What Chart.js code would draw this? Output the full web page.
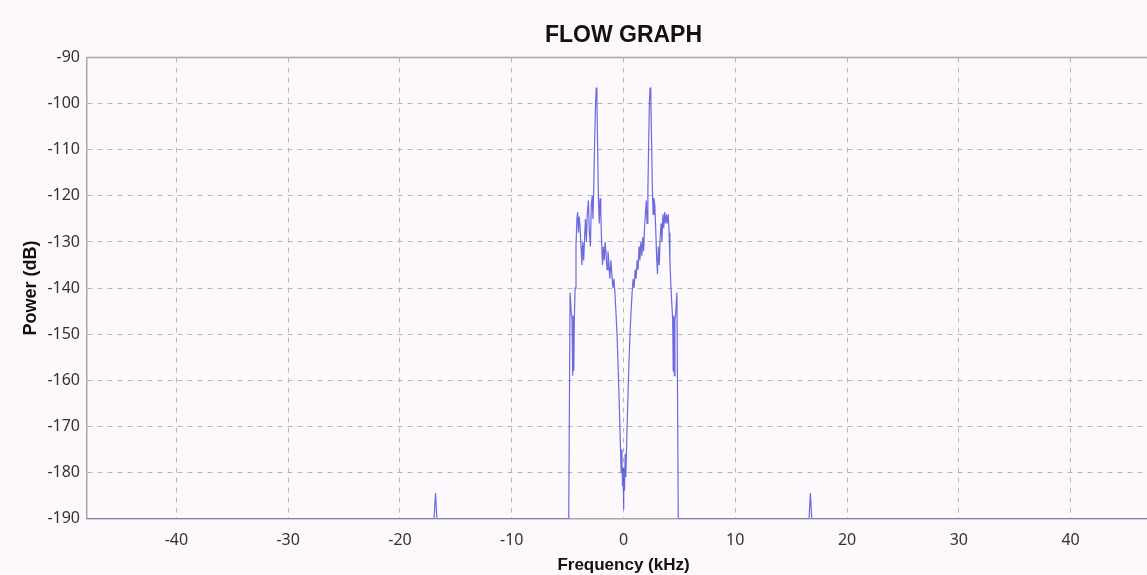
<!DOCTYPE html>
<html>
<head>
<meta charset="utf-8">
<title>Flow graph</title>
<script src="https://cdn.jsdelivr.net/npm/chart.js@4.4.1/dist/chart.umd.min.js"></script>
<style>
    html, body { margin: 0; padding: 0; background: #fcf8fc; overflow: hidden; }
    #wrap { width: 1160px; height: 577px; }
</style>
</head>
<body>
<div id="wrap"><canvas id="flowChart"></canvas></div>
<script>
// spectrum, kHz / dB
const freqKHz = [
    -48, -16.95, -16.82, -16.7, -4.9,
    -4.78, -4.68, -4.6, -4.55, -4.5, -4.45, -4.4, -4.33, -4.25, -4.17, -4.1, -4.03, -3.96, -3.88, -3.8,
    -3.72, -3.64, -3.56, -3.48, -3.4, -3.32, -3.24, -3.14, -3.05, -2.96, -2.88, -2.8, -2.73, -2.66,
    -2.58, -2.5, -2.44, -2.38, -2.31, -2.24, -2.17, -2.1, -2.03, -1.96, -1.88, -1.8, -1.72, -1.64,
    -1.55, -1.47, -1.39, -1.3, -1.22, -1.13, -1.04, -0.95, -0.86, -0.77, -0.68, -0.58, -0.48, -0.38,
    -0.29, -0.21, -0.15, -0.09, -0.04, 0,
    0.04, 0.09, 0.15, 0.21, 0.29, 0.38, 0.48, 0.58, 0.68, 0.77, 0.86, 0.95, 1.04, 1.13, 1.22, 1.3,
    1.39, 1.47, 1.55, 1.64, 1.72, 1.8, 1.88, 1.96, 2.04, 2.11, 2.18, 2.25, 2.32, 2.38, 2.44, 2.51,
    2.58, 2.65, 2.72, 2.8, 2.88, 2.96, 3.04, 3.12, 3.2, 3.28, 3.36, 3.44, 3.52, 3.6, 3.68, 3.76,
    3.84, 3.92, 4.0, 4.08, 4.15, 4.25, 4.33, 4.4, 4.45, 4.5, 4.55, 4.6, 4.68, 4.78, 4.9,
    16.6, 16.72, 16.84, 48
];
const powerDb = [
    -190, -190, -184.5, -190, -190,
    -141, -145, -147, -159, -146, -158, -147, -140, -131, -125, -123.5, -128, -124.5, -127, -131,
    -135, -130, -134, -129, -125, -130, -124, -121, -128, -131, -122, -120, -125, -118,
    -108, -100, -96.5, -99, -110, -121, -126, -120.5, -124, -130, -135, -131, -134, -130,
    -133, -136, -132, -135, -138, -134, -137, -140, -138, -141, -145, -150, -157, -165,
    -173, -180, -175, -183, -179, -188,
    -180, -184, -176, -181, -173, -165, -157, -150, -145, -141, -138, -140, -136, -138, -134, -136,
    -131, -134, -130, -133, -129, -132, -127, -124, -121, -126, -119, -109, -99.5, -96.5, -98, -108,
    -118, -124, -120.5, -122, -127, -133, -137, -131, -135, -129, -126, -130, -124, -127, -123.5, -126,
    -124, -126, -124, -128, -134, -140, -140, -147, -158, -146, -159, -147, -145, -141, -190,
    -190, -184.5, -190, -190
];
const powerTicks = [-190, -180, -170, -160, -150, -140, -130, -120, -110, -100, -90];

const points = freqKHz.map((f, i) => ({ x: f, y: powerDb[i] }));

// solid line along the top of the plot frame
const frameTop = {
    id: 'frameTop',
    beforeDatasetsDraw(chart) {
        const { ctx, chartArea } = chart;
        ctx.save();
        ctx.strokeStyle = '#a9a6aa';
        ctx.lineWidth = 1.5;
        ctx.beginPath();
        ctx.moveTo(chartArea.left, chartArea.top);
        ctx.lineTo(chartArea.right, chartArea.top);
        ctx.stroke();
        ctx.restore();
    }
};

new Chart(document.getElementById('flowChart'), {
    type: 'scatter',
    data: {
        datasets: [{
            data: points,
            showLine: true,
            borderColor: 'rgba(70, 70, 215, 0.8)',
            borderWidth: 1.2,
            pointRadius: 0,
            tension: 0
        }]
    },
    options: {
        responsive: true,
        maintainAspectRatio: false,
        animation: false,
        layout: { padding: 0 },
        plugins: {
            legend: { display: false },
            tooltip: { enabled: false },
            title: {
                display: true,
                text: 'FLOW GRAPH',
                fullSize: false,
                color: '#111',
                font: { family: 'Liberation Sans', size: 23, weight: 'bold' },
                padding: { top: 22, bottom: 8 }
            }
        },
        scales: {
            x: {
                type: 'linear',
                min: -48,
                max: 48,
                afterFit: (scale) => { scale.height = 58.5; },
                grid: { color: '#b9b6ba', lineWidth: 1, drawTicks: false },
                border: { color: '#a9a6aa', width: 1.5, dash: [5, 5] },
                ticks: {
                    stepSize: 10,
                    includeBounds: false,
                    padding: 12,
                    color: '#333',
                    font: { family: 'Noto Sans', size: 16 }
                },
                title: {
                    display: true,
                    text: 'Frequency (kHz)',
                    color: '#111',
                    font: { family: 'Liberation Sans', size: 17, weight: 'bold' },
                    padding: { top: 0, bottom: 1 }
                }
            },
            y: {
                min: -190,
                max: -90,
                afterBuildTicks: (scale) => {
                    scale.ticks = powerTicks.map(v => ({ value: v }));
                },
                afterFit: (scale) => { scale.width = 87; },
                grid: { color: '#b9b6ba', lineWidth: 1, drawTicks: false },
                border: { color: '#a9a6aa', width: 1.5, dash: [5, 5] },
                ticks: {
                    padding: 7,
                    color: '#333',
                    font: { family: 'Noto Sans', size: 16 }
                },
                title: {
                    display: true,
                    text: 'Power (dB)',
                    color: '#111',
                    font: { family: 'Liberation Sans', size: 18, weight: 'bold' },
                    padding: { top: 20, bottom: 8 }
                }
            }
        }
    },
    plugins: [frameTop]
});
</script>
</body>
</html>
